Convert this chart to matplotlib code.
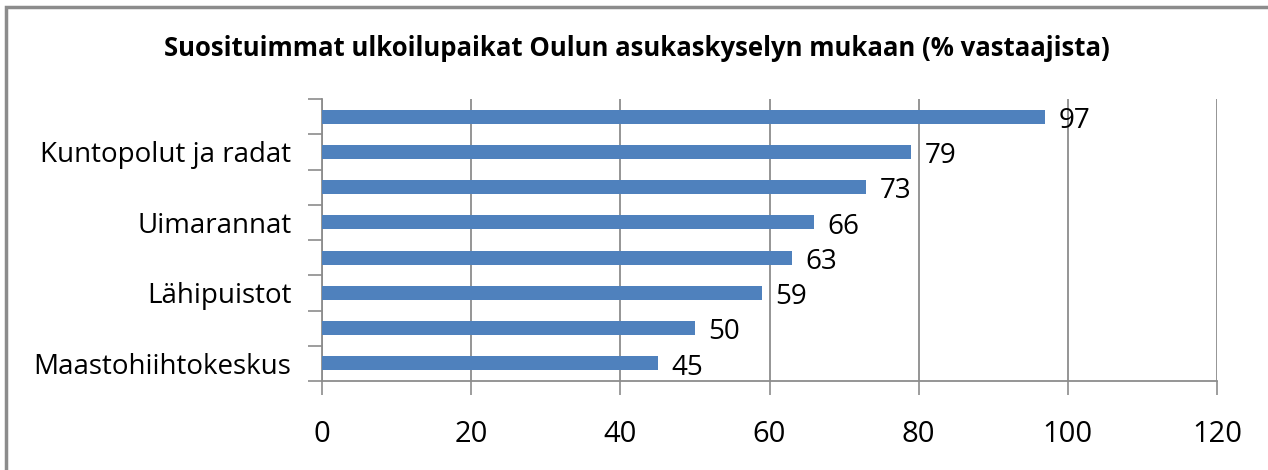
import matplotlib.pyplot as plt
from matplotlib.patches import Rectangle

# Survey data (top to bottom); Excel only printed every other category label
categories = ["", "Kuntopolut ja radat", "", "Uimarannat", "", "Lähipuistot", "", "Maastohiihtokeskus"]
values = [97, 79, 73, 66, 63, 59, 50, 45]
xticks = [0, 20, 40, 60, 80, 100, 120]

plt.rcParams['font.family'] = ['Open Sans', 'DejaVu Sans']

fig = plt.figure(figsize=(12.68, 4.70), dpi=100)
W, H = 1268, 470

# grey chart frame, cut off at right and bottom
fig.patches.append(Rectangle((6 / W, -0.1), 1.2, 1 - 7 / H + 0.1, transform=fig.transFigure,
                             fill=False, edgecolor='#8c8c8c', linewidth=2.5))

ax = fig.add_axes([322 / W, 1 - 381 / H, (1217 - 322) / W, (381 - 99) / H])

pos = list(range(len(values)))
ax.barh(pos, values, height=0.4, color='#4F81BD', zorder=3)
for p, v in zip(pos, values):
    ax.text(v + 1.8, p + 0.12, str(v), va='center', ha='left', fontsize=20, color='black', zorder=4)

ax.set_ylim(len(values) - 0.5, -0.5)
ax.set_xlim(0, 120)
ax.set_xticks(xticks)
ax.set_xticklabels([str(t) for t in xticks], fontsize=21)

# y ticks between categories, labels at category centres
ax.set_yticks([i - 0.5 for i in range(len(values) + 1)])
ax.set_yticklabels([])
ax.set_yticks(pos, minor=True)
ax.set_yticklabels(categories, minor=True, fontsize=20)
ax.tick_params(axis='y', which='minor', length=0, pad=22)
ax.tick_params(axis='y', which='major', length=10, color='#8c8c8c', width=1.2)
ax.tick_params(axis='x', length=10, color='#8c8c8c', width=1.2, pad=18)

ax.grid(axis='x', color='#8c8c8c', linewidth=1.3, zorder=0)
for s in ['top', 'right']:
    ax.spines[s].set_visible(False)
for s in ['left', 'bottom']:
    ax.spines[s].set_color('#8c8c8c')
    ax.spines[s].set_linewidth(1.3)

fig.text(637 / W, 1 - 48 / H, "Suosituimmat ulkoilupaikat Oulun asukaskyselyn mukaan (% vastaajista)",
         ha='center', va='center', fontsize=18.5, fontweight='bold')

fig.savefig('out.png', dpi=100)
